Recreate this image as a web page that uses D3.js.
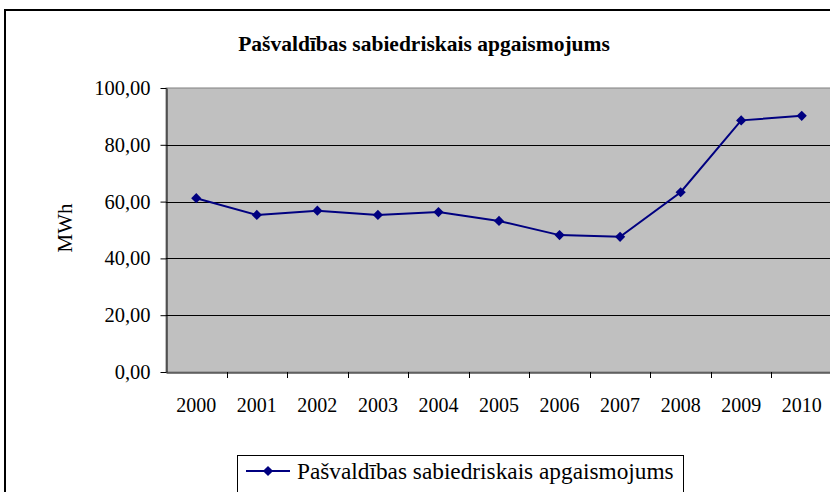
<!DOCTYPE html>
<html>
<head>
<meta charset="utf-8">
<script src="https://cdn.jsdelivr.net/npm/d3@7"></script>
<style>
  body { margin: 0; background: #fff; }
  text { font-family: "Liberation Serif", "Times New Roman", serif; }
</style>
</head>
<body>
<div id="chart"></div>
<script>
var years = ["2000", "2001", "2002", "2003", "2004", "2005", "2006", "2007", "2008", "2009", "2010"];
var values = [61.2, 55.3, 56.8, 55.3, 56.3, 53.2, 48.2, 47.6, 63.3, 88.6, 90.2];
var yTicks = [0, 20, 40, 60, 80, 100];
var seriesName = "Pašvaldības sabiedriskais apgaismojums";
var chartTitle = "Pašvaldības sabiedriskais apgaismojums";
var yLabel = "MWh";

var width = 830, height = 492;
var plot = { left: 166, right: 832, top: 88, bottom: 372 };
var lineColor = "#000080";

var svg = d3.select("#chart").append("svg")
  .attr("width", width)
  .attr("height", height);

// outer chart border
svg.append("rect")
  .attr("x", 5).attr("y", 10)
  .attr("width", 900).attr("height", 600)
  .attr("fill", "#fff")
  .attr("stroke", "#000")
  .attr("stroke-width", 2);

/* Scales */
var x = d3.scaleBand().domain(years).range([plot.left, plot.right]);
var y = d3.scaleLinear().domain([0, 100]).range([plot.bottom, plot.top]);

// plot area
svg.append("rect")
  .attr("x", plot.left).attr("y", plot.top)
  .attr("width", plot.right - plot.left).attr("height", plot.bottom - plot.top)
  .attr("fill", "#c0c0c0")
  .attr("stroke", "#808080")
  .attr("stroke-width", 1);

// grid lines
svg.append("g")
  .selectAll("line")
  .data(yTicks.filter(d => d > 0 && d < 100))
  .join("line")
  .attr("x1", plot.left).attr("x2", plot.right)
  .attr("y1", d => Math.round(y(d)) + 0.5).attr("y2", d => Math.round(y(d)) + 0.5)
  .attr("stroke", "#000")
  .attr("stroke-width", 1);

/* Axes */
var fmt = d => d3.format(".2f")(d).replace(".", ",");
var yAxis = d3.axisLeft(y).tickValues(yTicks).tickFormat(fmt).tickSize(6).tickSizeOuter(0).tickPadding(10);
var gy = svg.append("g").attr("transform", `translate(${plot.left + 0.5},0)`).call(yAxis);
gy.selectAll("text").style("font-size", "20.5px").attr("fill", "#000");
gy.selectAll("line").attr("stroke", "#000");
gy.select(".domain").attr("stroke", "#000");

var xAxis = d3.axisBottom(x).tickSize(0).tickSizeOuter(0);
var gx = svg.append("g").attr("transform", `translate(0,${plot.bottom + 0.5})`).call(xAxis);
gx.select(".domain").attr("stroke", "#000");
gx.selectAll("text").style("font-size", "20px").attr("fill", "#000")
  .attr("dy", 0).attr("y", 39.5);

// x ticks at category boundaries
svg.append("g")
  .selectAll("line")
  .data(years.slice(1))
  .join("line")
  .attr("x1", d => Math.round(x(d)) + 0.5).attr("x2", d => Math.round(x(d)) + 0.5)
  .attr("y1", plot.bottom).attr("y2", plot.bottom + 6)
  .attr("stroke", "#000");

/* Line */
var line = d3.line()
  .x((d, i) => x(years[i]) + x.bandwidth() / 2)
  .y(d => y(d));

svg.append("path")
  .datum(values)
  .attr("d", line)
  .attr("fill", "none")
  .attr("stroke", lineColor)
  .attr("stroke-width", 2);

var diamond = d3.symbol(d3.symbolSquare, 52);
svg.append("g")
  .selectAll("path")
  .data(values)
  .join("path")
  .attr("d", diamond)
  .attr("transform", (d, i) => `translate(${x(years[i]) + x.bandwidth() / 2},${y(d)}) rotate(45)`)
  .attr("fill", lineColor);

/* Title and labels */
svg.append("text")
  .attr("x", 424).attr("y", 51)
  .attr("text-anchor", "middle")
  .style("font-size", "21.5px")
  .style("font-weight", "bold")
  .text(chartTitle);

svg.append("text")
  .attr("transform", "translate(72,228) rotate(-90)")
  .attr("text-anchor", "middle")
  .style("font-size", "21px")
  .text(yLabel);

/* Legend */
var legend = svg.append("g");
legend.append("rect")
  .attr("x", 237.5).attr("y", 455.5)
  .attr("width", 446).attr("height", 60)
  .attr("fill", "#fff")
  .attr("stroke", "#000");
legend.append("line")
  .attr("x1", 246).attr("x2", 290)
  .attr("y1", 471).attr("y2", 471)
  .attr("stroke", lineColor).attr("stroke-width", 2);
legend.append("path")
  .attr("d", diamond)
  .attr("transform", "translate(268,471) rotate(45)")
  .attr("fill", lineColor);
legend.append("text")
  .attr("x", 297).attr("y", 479)
  .style("font-size", "23.3px")
  .text(seriesName);
</script>
</body>
</html>
